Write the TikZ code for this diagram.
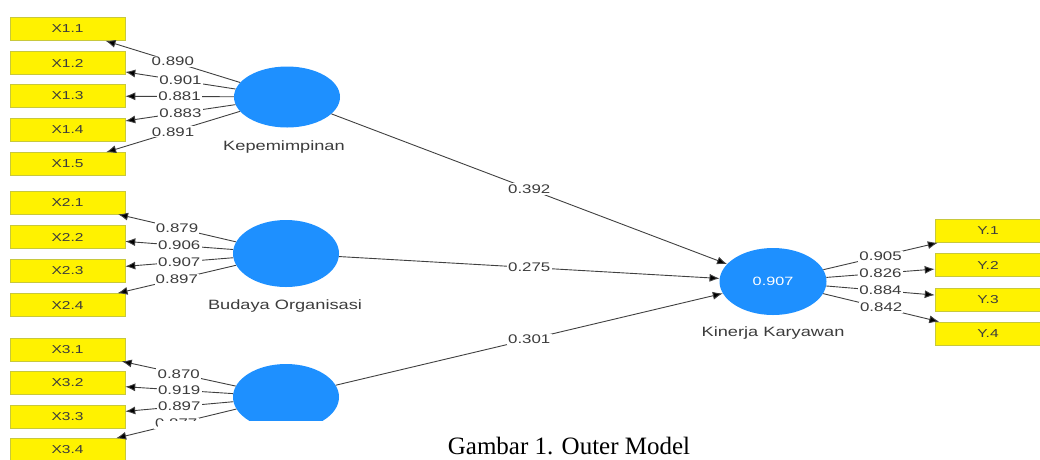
\documentclass[tikz,border=0pt]{standalone}
\usepackage{fontspec}
\usetikzlibrary{shapes.geometric,arrows.meta}
\newfontfamily\lbl[FakeStretch=1.35]{Liberation Sans}
\newfontfamily\capfont{Liberation Serif}
\definecolor{plsblue}{RGB}{30,144,255}
\definecolor{txtgray}{RGB}{60,60,60}
\definecolor{boxedge}{RGB}{200,200,60}
\tikzset{
  ind/.style={rectangle, fill=yellow, draw=boxedge, line width=0.6pt, minimum width=115pt, minimum height=23pt, inner sep=0pt, font=\lbl\fontsize{11.5}{13}\selectfont, text=txtgray},
  indy/.style={ind, minimum width=106pt},
  lat/.style={ellipse, fill=plsblue, draw=none, minimum width=106pt, minimum height=63pt, inner sep=0pt, font=\lbl\fontsize{12}{14}\selectfont, text=white},
  latname/.style={font=\lbl\fontsize{13.5}{15}\selectfont, text=txtgray},
  conn/.style={draw=black!75, line width=0.9pt, -{Latex[length=10pt,width=8pt,fill=black]}},
  val/.style={fill=white, inner sep=1.2pt, font=\lbl\fontsize{12.5}{14}\selectfont, text=txtgray}
}
\begin{document}
\begin{tikzpicture}[x=1pt,y=-1pt]
\useasboundingbox (0,0) rectangle (1040,459);
% indicator boxes
\node[ind] (x11) at (67.5,29) {X1.1};
\node[ind] (x12) at (67.5,63) {X1.2};
\node[ind] (x13) at (67.5,96) {X1.3};
\node[ind] (x14) at (67.5,129.5) {X1.4};
\node[ind] (x15) at (67.5,164) {X1.5};
\node[ind] (x21) at (67.5,202.5) {X2.1};
\node[ind] (x22) at (67.5,237) {X2.2};
\node[ind] (x23) at (67.5,271) {X2.3};
\node[ind] (x24) at (67.5,305) {X2.4};
\node[ind] (x31) at (67.5,349.5) {X3.1};
\node[ind] (x32) at (67.5,383) {X3.2};
\node[ind] (x33) at (67.5,416.5) {X3.3};
\node[ind] (x34) at (67.5,450) {X3.4};
\node[indy] (y1) at (988,231) {Y.1};
\node[indy] (y2) at (988,265) {Y.2};
\node[indy] (y3) at (988,299.5) {Y.3};
\node[indy] (y4) at (988,333.5) {Y.4};
% latent variables
\node[lat, minimum height=61pt] (kep) at (287,97) {};
\node[lat, minimum height=67pt] (bud) at (286,253.5) {};
\node[lat, minimum height=66pt] (lk) at (286,397) {};
\node[lat, minimum width=107pt, minimum height=67pt] (kin) at (773,281.5) {0.907};
\node[latname] (kepn) at (284,147) {Kepemimpinan};
\node[latname] (budn) at (285,306) {Budaya Organisasi};
\node[latname] (kinn) at (773,333) {Kinerja Karyawan};
% outer loadings
\draw[conn] (kep) -- node[val] {0.890} (x11);
\draw[conn] (kep) -- node[val] {0.901} (x12);
\draw[conn] (kep) -- node[val] {0.881} (x13);
\draw[conn] (kep) -- node[val] {0.883} (x14);
\draw[conn] (kep) -- node[val] {0.891} (x15);
\draw[conn] (bud) -- node[val] {0.879} (x21);
\draw[conn] (bud) -- node[val] {0.906} (x22);
\draw[conn] (bud) -- node[val] {0.907} (x23);
\draw[conn] (bud) -- node[val] {0.897} (x24);
\draw[conn] (lk) -- node[val] {0.870} (x31);
\draw[conn] (lk) -- node[val] {0.919} (x32);
\draw[conn] (lk) -- node[val] {0.897} (x33);
\draw[conn] (lk) -- node[val] {0.877} (x34);
\draw[conn] (kin) -- node[val] {0.905} (y1);
\draw[conn] (kin) -- node[val] {0.826} (y2);
\draw[conn] (kin) -- node[val] {0.884} (y3);
\draw[conn] (kin) -- node[val] {0.842} (y4);
% inner paths
\draw[conn] (kep) -- node[val] {0.392} (kin);
\draw[conn] (bud) -- node[val] {0.275} (kin);
\draw[conn] (lk) -- node[val] {0.301} (kin);
% white cover and caption
\fill[white] (158,421) rectangle (1045,465);
\node[anchor=base, font=\capfont\fontsize{25}{28}\selectfont, text=black, inner sep=0pt] (cap) at (569,454) {Gambar 1. Outer Model};
\end{tikzpicture}
\end{document}
